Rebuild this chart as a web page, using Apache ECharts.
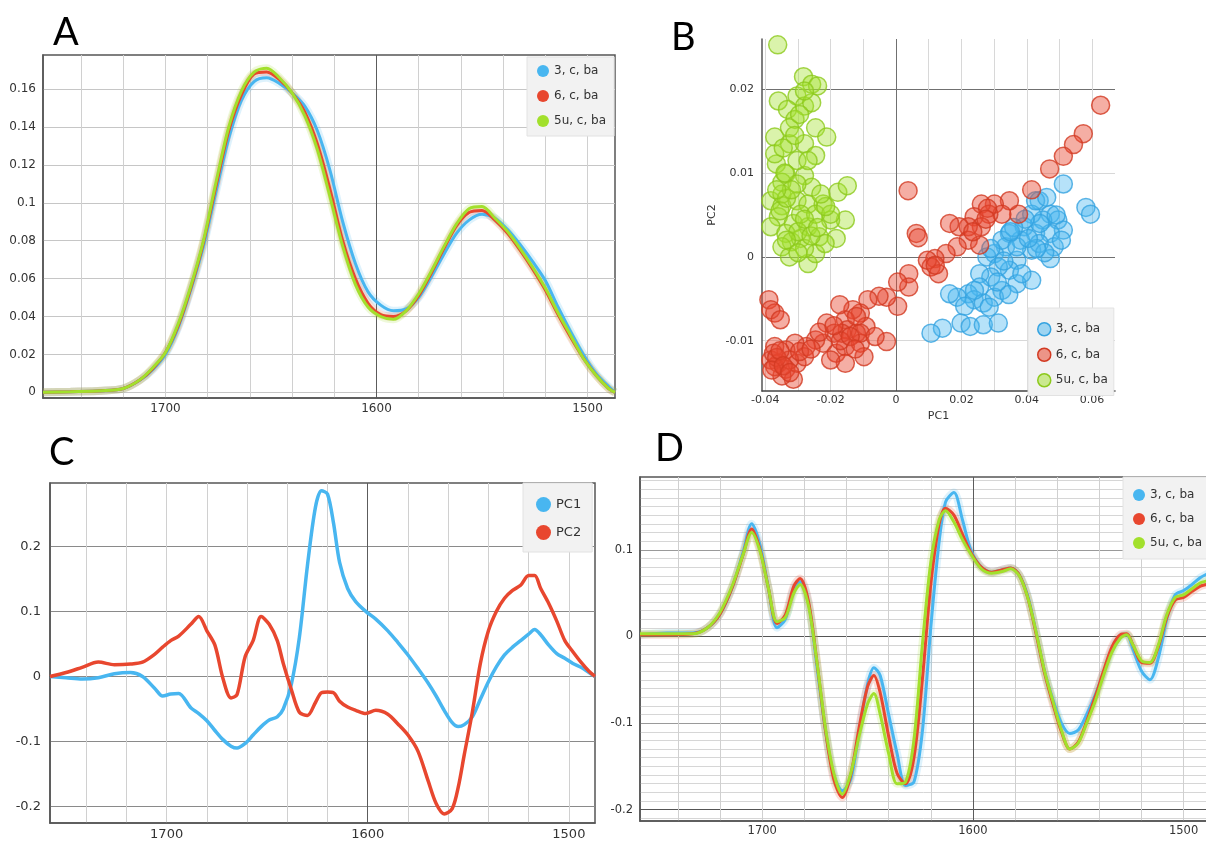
<!DOCTYPE html>
<html>
<head>
<meta charset="utf-8">
<script src="https://cdn.jsdelivr.net/npm/echarts@6/dist/echarts.min.js"></script>
<style>
html, body { margin: 0; padding: 0; background: #fff; }
#chart { width: 1206px; height: 842px; }
</style>
</head>
<body>
<div id="chart"></div>
<script>
// ---- A: absorbance spectra (mean per group)
const wnA = [1758, 1745, 1730, 1720, 1712, 1706, 1700, 1694, 1688, 1682, 1676, 1670, 1664, 1658, 1652, 1646, 1640, 1634, 1628, 1622, 1616, 1610, 1604, 1598, 1592, 1586, 1580, 1574, 1568, 1562, 1556, 1550, 1544, 1538, 1532, 1526, 1520, 1514, 1508, 1502, 1496, 1490, 1487]
const a3 = [0, 0.0003, 0.0008, 0.002, 0.0065, 0.012, 0.020, 0.034, 0.054, 0.077, 0.106, 0.134, 0.154, 0.164, 0.166, 0.163, 0.158, 0.151, 0.138, 0.117, 0.090, 0.068, 0.053, 0.046, 0.043, 0.044, 0.050, 0.061, 0.073, 0.084, 0.091, 0.094, 0.092, 0.086, 0.078, 0.069, 0.059, 0.045, 0.032, 0.020, 0.010, 0.003, 0]
const a6 = [0, 0.0003, 0.0008, 0.002, 0.0066, 0.0125, 0.021, 0.035, 0.055, 0.079, 0.109, 0.138, 0.157, 0.168, 0.169, 0.165, 0.158, 0.148, 0.131, 0.107, 0.080, 0.060, 0.047, 0.041, 0.040, 0.043, 0.051, 0.063, 0.076, 0.088, 0.095, 0.096, 0.091, 0.084, 0.075, 0.065, 0.054, 0.041, 0.029, 0.018, 0.009, 0.002, 0]
const a5u = [0, 0.0003, 0.0008, 0.002, 0.0067, 0.013, 0.021, 0.036, 0.056, 0.080, 0.111, 0.140, 0.159, 0.169, 0.171, 0.166, 0.158, 0.146, 0.128, 0.103, 0.077, 0.057, 0.045, 0.040, 0.0385, 0.043, 0.052, 0.064, 0.077, 0.089, 0.097, 0.098, 0.092, 0.085, 0.076, 0.066, 0.055, 0.042, 0.030, 0.018, 0.009, 0.002, 0]

// ---- B: PCA scores [PC1, PC2]
const sc3 = [[0.0512, 0.0087], [0.0581, 0.0059], [0.0595, 0.0051], [0.0438, 0.0067], [0.0472, 0.0051], [0.0495, 0.0044], [0.0512, 0.0032], [0.0449, 0.0044], [0.0415, 0.0051], [0.0392, 0.0036], [0.0427, 0.0028], [0.0472, 0.0028], [0.0484, 0.0012], [0.0472, -0.0002], [0.0415, 0.0008], [0.0381, 0.0020], [0.0347, 0.0028], [0.0335, 0.0012], [0.0301, 0.0004], [0.0278, 0.0000], [0.0370, -0.0004], [0.0347, -0.0016], [0.0313, -0.0012], [0.0290, -0.0024], [0.0256, -0.0020], [0.0415, -0.0028], [0.0370, -0.0032], [0.0324, -0.0040], [0.0256, -0.0036], [0.0221, -0.0044], [0.0187, -0.0048], [0.0239, -0.0051], [0.0267, -0.0055], [0.0301, -0.0048], [0.0210, -0.0059], [0.0164, -0.0044], [0.0199, -0.0079], [0.0227, -0.0083], [0.0267, -0.0081], [0.0313, -0.0079], [0.0142, -0.0085], [0.0107, -0.0091], [0.0427, 0.0067], [0.0461, 0.0071], [0.0324, 0.0020], [0.0370, 0.0012], [0.0438, 0.0016], [0.0506, 0.0020],
    [0.0440, 0.0040], [0.0395, 0.0045], [0.0360, 0.0035], [0.0455, 0.0005], [0.0330, -0.0005], [0.0290, 0.0010], [0.0385, -0.0020], [0.0345, -0.0045], [0.0285, -0.0060], [0.0240, -0.0040], [0.0490, 0.0050], [0.0430, 0.0010], [0.0405, 0.0022], [0.0350, 0.0030], [0.0310, -0.0030]]
const sc6 = [[0.0626, 0.0181], [0.0573, 0.0147], [0.0543, 0.0134], [0.0512, 0.0120], [0.0470, 0.0105], [0.0415, 0.0080], [0.0375, 0.0051], [0.0347, 0.0067], [0.0301, 0.0063], [0.0261, 0.0063], [0.0324, 0.0051], [0.0284, 0.0051], [0.0239, 0.0048], [0.0261, 0.0036], [0.0221, 0.0036], [0.0193, 0.0036], [0.0164, 0.0040], [0.0221, 0.0020], [0.0256, 0.0014], [0.0187, 0.0012], [0.0153, 0.0004], [0.0119, -0.0002], [0.0107, -0.0012], [0.0130, -0.0020], [0.0096, -0.0004], [0.0037, 0.0079], [0.0062, 0.0028], [0.0068, 0.0023], [0.0039, -0.0020], [0.0039, -0.0036], [0.0005, -0.0030], [0.0005, -0.0059], [-0.0029, -0.0048], [-0.0052, -0.0047], [-0.0086, -0.0051], [-0.0029, -0.0101], [-0.0109, -0.0067], [-0.0132, -0.0063], [-0.0092, -0.0083], [-0.0121, -0.0091], [-0.0155, -0.0075], [-0.0172, -0.0057], [-0.0212, -0.0079], [-0.0189, -0.0091], [-0.0223, -0.0103], [-0.0183, -0.0115], [-0.0155, -0.0107], [-0.0109, -0.0103], [-0.0098, -0.0119], [-0.0155, -0.0127], [-0.0200, -0.0123], [-0.0246, -0.0099], [-0.0275, -0.0107], [-0.0309, -0.0103], [-0.0337, -0.0111], [-0.0371, -0.0107], [-0.0383, -0.0123], [-0.0360, -0.0127], [-0.0337, -0.0134], [-0.0314, -0.0146], [-0.0349, -0.0142], [-0.0303, -0.0127], [-0.0280, -0.0119], [-0.0389, -0.0051], [-0.0371, -0.0067], [-0.0383, -0.0063], [-0.0354, -0.0075], [-0.0371, -0.0131], [-0.0326, -0.0123], [-0.0149, -0.0087], [-0.0121, -0.0071], [-0.0109, -0.0091], [-0.0064, -0.0095], [-0.0166, -0.0091],
    [-0.0375, -0.0115], [-0.0365, -0.0120], [-0.0355, -0.0112], [-0.0380, -0.0135], [-0.0345, -0.0130], [-0.0325, -0.0138], [-0.0295, -0.0113], [-0.0260, -0.0110], [-0.0235, -0.0090], [-0.0170, -0.0100], [-0.0140, -0.0095], [-0.0125, -0.0110], [-0.0190, -0.0082], [0.0280, 0.0058], [0.0235, 0.0030], [0.0275, 0.0045], [0.0120, -0.0010]]
const sc5u = [[-0.0362, 0.0253], [-0.0283, 0.0215], [-0.0258, 0.0206], [-0.0240, 0.0204], [-0.0303, 0.0192], [-0.0360, 0.0186], [-0.0332, 0.0176], [-0.0280, 0.0180], [-0.0309, 0.0164], [-0.0258, 0.0184], [-0.0246, 0.0154], [-0.0212, 0.0143], [-0.0371, 0.0143], [-0.0326, 0.0135], [-0.0280, 0.0135], [-0.0246, 0.0121], [-0.0366, 0.0111], [-0.0337, 0.0099], [-0.0280, 0.0097], [-0.0303, 0.0115], [-0.0349, 0.0089], [-0.0258, 0.0083], [-0.0178, 0.0077], [-0.0149, 0.0085], [-0.0383, 0.0067], [-0.0349, 0.0061], [-0.0303, 0.0067], [-0.0269, 0.0063], [-0.0223, 0.0063], [-0.0155, 0.0044], [-0.0200, 0.0044], [-0.0360, 0.0048], [-0.0314, 0.0040], [-0.0269, 0.0036], [-0.0383, 0.0036], [-0.0337, 0.0028], [-0.0320, 0.0018], [-0.0292, 0.0022], [-0.0235, 0.0024], [-0.0183, 0.0022], [-0.0349, 0.0012], [-0.0326, 0.0000], [-0.0269, -0.0008], [-0.0246, 0.0004], [-0.0217, 0.0016], [-0.0280, 0.0010], [-0.0371, 0.0123], [-0.0326, 0.0154], [-0.0280, 0.0198], [-0.0349, 0.0075], [-0.0292, 0.0051], [-0.0246, 0.0051], [-0.0200, 0.0051], [-0.0303, 0.0087], [-0.0269, 0.0115],
    [-0.0355, 0.0055], [-0.0335, 0.0070], [-0.0320, 0.0080], [-0.0300, 0.0030], [-0.0280, 0.0045], [-0.0260, 0.0025], [-0.0240, 0.0035], [-0.0215, 0.0060], [-0.0345, 0.0130], [-0.0310, 0.0145], [-0.0295, 0.0170], [-0.0340, 0.0100], [-0.0365, 0.0080], [-0.0335, 0.0020], [-0.0300, 0.0005], [-0.0230, 0.0075]]

// ---- C: loadings
const wnC = [1758, 1750, 1742, 1734, 1726, 1718, 1712, 1706, 1702, 1698, 1694, 1688, 1684, 1680, 1676, 1672, 1668, 1665, 1661, 1657, 1653, 1649, 1645, 1642, 1638, 1634, 1630, 1626, 1623, 1620, 1617, 1614, 1610, 1606, 1601, 1596, 1590, 1585, 1580, 1575, 1570, 1566, 1562, 1558, 1555, 1552, 1548, 1544, 1540, 1536, 1532, 1528, 1524, 1520, 1517, 1514, 1510, 1506, 1502, 1498, 1494, 1490, 1487]
const pc1 = [0, -0.002, -0.004, -0.002, 0.004, 0.006, 0.000, -0.018, -0.030, -0.027, -0.026, -0.048, -0.057, -0.068, -0.083, -0.097, -0.107, -0.110, -0.103, -0.090, -0.077, -0.067, -0.062, -0.050, -0.012, 0.060, 0.170, 0.260, 0.285, 0.280, 0.235, 0.175, 0.135, 0.115, 0.100, 0.088, 0.070, 0.052, 0.033, 0.012, -0.010, -0.030, -0.052, -0.071, -0.077, -0.074, -0.062, -0.035, -0.008, 0.015, 0.033, 0.045, 0.055, 0.065, 0.072, 0.064, 0.048, 0.035, 0.028, 0.020, 0.014, 0.006, 0]
const pc2 = [0, 0.006, 0.014, 0.022, 0.018, 0.019, 0.022, 0.034, 0.045, 0.055, 0.062, 0.080, 0.092, 0.070, 0.048, -0.003, -0.033, -0.028, 0.030, 0.055, 0.092, 0.080, 0.055, 0.020, -0.020, -0.055, -0.060, -0.040, -0.025, -0.024, -0.025, -0.038, -0.047, -0.052, -0.057, -0.052, -0.058, -0.073, -0.090, -0.115, -0.160, -0.195, -0.211, -0.203, -0.170, -0.120, -0.055, 0.020, 0.070, 0.100, 0.120, 0.132, 0.140, 0.155, 0.155, 0.135, 0.112, 0.085, 0.055, 0.038, 0.022, 0.008, 0]

// ---- D: second derivative spectra
const wnD = [1758, 1745, 1733, 1726, 1720, 1714, 1709, 1705, 1701, 1697, 1693, 1689, 1685, 1682, 1678, 1674, 1670, 1666, 1662, 1658, 1654, 1650, 1647, 1644, 1640, 1636, 1632, 1628, 1624, 1620, 1616, 1613, 1609, 1605, 1601, 1596, 1591, 1586, 1582, 1578, 1574, 1570, 1566, 1562, 1558, 1554, 1550, 1546, 1542, 1538, 1534, 1530, 1527, 1524, 1520, 1516, 1512, 1508, 1504, 1500, 1496, 1492, 1489, 1487]
const d3 = [0.002, 0.004, 0.004, 0.010, 0.026, 0.058, 0.098, 0.130, 0.105, 0.055, 0.010, 0.020, 0.055, 0.063, 0.038, -0.035, -0.108, -0.160, -0.178, -0.165, -0.110, -0.055, -0.036, -0.045, -0.090, -0.135, -0.172, -0.168, -0.110, 0.010, 0.110, 0.155, 0.166, 0.135, 0.100, 0.080, 0.074, 0.077, 0.079, 0.071, 0.047, 0.005, -0.040, -0.073, -0.100, -0.112, -0.108, -0.090, -0.068, -0.042, -0.015, 0.000, 0.002, -0.015, -0.040, -0.050, -0.025, 0.020, 0.048, 0.053, 0.060, 0.068, 0.072, 0.074]
const d6 = [0.002, 0.002, 0.003, 0.010, 0.026, 0.058, 0.095, 0.124, 0.100, 0.055, 0.015, 0.025, 0.058, 0.067, 0.040, -0.030, -0.108, -0.165, -0.186, -0.160, -0.105, -0.058, -0.045, -0.065, -0.115, -0.158, -0.170, -0.140, -0.050, 0.060, 0.130, 0.148, 0.140, 0.118, 0.097, 0.080, 0.074, 0.077, 0.079, 0.071, 0.045, 0.003, -0.042, -0.078, -0.110, -0.130, -0.122, -0.098, -0.070, -0.040, -0.012, 0.002, 0.003, -0.010, -0.030, -0.031, -0.012, 0.022, 0.042, 0.045, 0.052, 0.058, 0.060, 0.061]
const d5u = [0.003, 0.003, 0.003, 0.010, 0.028, 0.060, 0.095, 0.120, 0.098, 0.055, 0.017, 0.022, 0.050, 0.060, 0.035, -0.030, -0.105, -0.158, -0.182, -0.158, -0.115, -0.078, -0.066, -0.090, -0.135, -0.170, -0.168, -0.120, -0.010, 0.085, 0.135, 0.145, 0.132, 0.112, 0.095, 0.078, 0.073, 0.075, 0.078, 0.070, 0.045, 0.005, -0.040, -0.075, -0.108, -0.130, -0.123, -0.100, -0.075, -0.045, -0.018, -0.002, 0.002, -0.010, -0.028, -0.030, -0.010, 0.025, 0.045, 0.048, 0.055, 0.062, 0.064, 0.065]

const names = ['3, c, ba', '6, c, ba', '5u, c, ba']
const BLUE = '#48b6f0', RED = '#e8472f', GREEN = '#a2e02c'
const FONT = 'DejaVu Sans'

// colour for every fine tick; pick() gets the tick as an integer multiple of step
const fine = (min, max, step, pick) => {
    const cols = []
    const k0 = Math.round(min / step)
    const n = Math.round((max - min) / step)
    for (let i = 0; i <= n; i++) cols.push(pick(k0 + i))
    return cols
}
const NONE = 'rgba(0,0,0,0)'

const waveAxis = (gridIndex, fontSize, margin) => ({
    type: 'value', gridIndex, inverse: true, min: 1487, max: 1758, interval: 1,
    axisLine: {show: true, onZero: false, lineStyle: {color: '#555', width: 1.5}},
    axisTick: {show: false},
    axisLabel: {fontSize, fontFamily: FONT, color: '#333', margin,
        formatter: v => Math.round(v) % 100 === 0 ? String(Math.round(v)) : ''},
    splitLine: {show: true, lineStyle: {width: 1,
        color: fine(1487, 1758, 1, k => k === 1600 ? '#5c5c5c' : k % 20 === 0 ? '#d0d0d0' : NONE)}}
})

const valAxis = (gridIndex, min, max, labelEvery, fontSize, margin, pick) => ({
    type: 'value', gridIndex, min, max, interval: 0.001,
    axisLine: {show: true, onZero: false, lineStyle: {color: '#555', width: 1.5}},
    axisTick: {show: false},
    axisLabel: {fontSize, fontFamily: FONT, color: '#333', margin, showMaxLabel: false,
        formatter: v => {
            const k = Math.round(v * 1000)
            return k % labelEvery === 0 ? String(k / 1000) : ''
        }},
    splitLine: {show: true, lineStyle: {width: 1, color: fine(min, max, 0.001, pick)}}
})

const line = (name, axis, wn, vals, color, width) => ({
    name, type: 'line', xAxisIndex: axis, yAxisIndex: axis,
    data: wn.map((w, i) => [w, vals[i]]),
    symbol: 'none', showSymbol: false, smooth: 0.3, silent: true,
    lineStyle: {color, width}, itemStyle: {color}
})
const halo = (axis, wn, vals, color, width) => ({
    type: 'line', xAxisIndex: axis, yAxisIndex: axis,
    data: wn.map((w, i) => [w, vals[i]]),
    symbol: 'none', showSymbol: false, smooth: 0.3, silent: true,
    lineStyle: {color, width, opacity: 0.18}
})

const dot = (name, pts, fill, border) => ({
    name, type: 'scatter', xAxisIndex: 1, yAxisIndex: 1, data: pts,
    symbolSize: 18, silent: true,
    itemStyle: {color: fill, borderColor: border, borderWidth: 1.5}
})

const letter = (text, left, top) => ({
    text, left, top,
    textStyle: {fontSize: 38, fontFamily: 'Lato', fontWeight: 'normal', color: '#000'}
})

const legendBox = (left, top, data, size, gap, pad, fontSize) => ({
    orient: 'vertical', left, top, data, icon: 'circle', selectedMode: false,
    itemWidth: size, itemHeight: size, itemGap: gap, padding: pad,
    backgroundColor: '#f2f2f2', borderColor: '#e2e2e2', borderWidth: 1,
    textStyle: {fontSize, fontFamily: FONT, color: '#333'}
})

const fills = ['rgba(72,182,240,0.5)', 'rgba(232,71,47,0.55)', 'rgba(162,224,44,0.5)']
const edges = ['#35a3e0', '#d23a22', '#8cc91c']

const option = {
    animation: false,
    backgroundColor: '#fff',
    title: [letter('A', 48, 9), letter('B', 666, 14), letter('C', 44, 429), letter('D', 650, 425)],
    grid: [
        {left: 43, top: 55, width: 572, height: 343, show: true, borderColor: '#555', borderWidth: 1.5, outerBoundsMode: 'none'},
        {left: 762, top: 39, width: 353, height: 352, outerBoundsMode: 'none'},
        {left: 50, top: 483, width: 545, height: 340, show: true, borderColor: '#555', borderWidth: 1.5, outerBoundsMode: 'none'},
        {left: 640, top: 477, width: 571, height: 344, show: true, borderColor: '#555', borderWidth: 1.5, outerBoundsMode: 'none'}
    ],
    xAxis: [
        waveAxis(0, 12, 5),
        {
            type: 'value', gridIndex: 1, min: -0.041, max: 0.067, interval: 0.001,
            name: 'PC1', nameLocation: 'middle', nameGap: 20,
            nameTextStyle: {fontSize: 11, fontFamily: FONT, color: '#333'},
            axisLine: {show: true, onZero: false, lineStyle: {color: '#444', width: 1.5}},
            axisTick: {show: false},
            axisLabel: {fontSize: 11, fontFamily: FONT, color: '#333', margin: 4, showMaxLabel: false,
                formatter: v => {
                    const k = Math.round(v * 1000)
                    return k % 20 === 0 ? String(k / 1000) : ''
                }},
            splitLine: {show: true, lineStyle: {width: 1,
                color: fine(-0.041, 0.067, 0.001, k => k === 0 ? '#707070' : k % 10 === 0 ? '#d8d8d8' : NONE)}}
        },
        waveAxis(2, 13, 5),
        waveAxis(3, 11.5, 4)
    ],
    yAxis: [
        valAxis(0, -0.003, 0.178, 20, 12, 7, k => k % 20 === 0 ? '#c6c6c6' : NONE),
        Object.assign(valAxis(1, -0.016, 0.026, 10, 11, 8,
            k => (k === 0 || k === 20) ? '#707070' : k % 10 === 0 ? '#d8d8d8' : NONE), {
            name: 'PC2', nameLocation: 'middle', nameGap: 44,
            nameTextStyle: {fontSize: 11, fontFamily: FONT, color: '#333'}
        }),
        valAxis(2, -0.225, 0.297, 100, 13, 9, k => k % 100 === 0 ? '#8a8a8a' : NONE),
        valAxis(3, -0.213, 0.184, 100, 11.5, 7,
            k => (k === 0 || k === -200) ? '#555' : k % 100 === 0 ? '#9a9a9a' : k % 10 === 0 ? '#d6d6d6' : NONE)
    ],
    legend: [
        legendBox(527, 57, names.map((n, i) => ({name: n, itemStyle: {color: [BLUE, RED, GREEN][i]}})),
            12, 13, [8, 8, 9, 10], 12),
        legendBox(1028, 308, names.map((n, i) => ({name: n, itemStyle: {color: fills[i], borderColor: edges[i], borderWidth: 1.5}})),
            13, 11, [14, 6, 8, 9], 12),
        legendBox(523, 483, [{name: 'PC1', itemStyle: {color: BLUE}}, {name: 'PC2', itemStyle: {color: RED}}],
            15, 13, [14, 11, 12, 13], 13),
        legendBox(1123, 477, names.map((n, i) => ({name: n, itemStyle: {color: [BLUE, RED, GREEN][i]}})),
            12, 12, [12, 10, 10, 10], 12)
    ],
    series: [
        halo(0, wnA, a3, BLUE, 8), halo(0, wnA, a6, RED, 8), halo(0, wnA, a5u, GREEN, 8),
        line(names[0], 0, wnA, a3, BLUE, 3),
        line(names[1], 0, wnA, a6, RED, 3),
        line(names[2], 0, wnA, a5u, GREEN, 3),

        dot(names[0], sc3, fills[0], edges[0]),
        dot(names[1], sc6, fills[1], edges[1]),
        dot(names[2], sc5u, fills[2], edges[2]),

        line('PC1', 2, wnC, pc1, BLUE, 3.5),
        line('PC2', 2, wnC, pc2, RED, 3.5),

        halo(3, wnD, d3, BLUE, 8), halo(3, wnD, d6, RED, 8), halo(3, wnD, d5u, GREEN, 8),
        line(names[0], 3, wnD, d3, BLUE, 3),
        line(names[1], 3, wnD, d6, RED, 3),
        line(names[2], 3, wnD, d5u, GREEN, 3)
    ]
}

const chart = echarts.init(document.getElementById('chart'))
chart.setOption(option)
</script>
</body>
</html>
